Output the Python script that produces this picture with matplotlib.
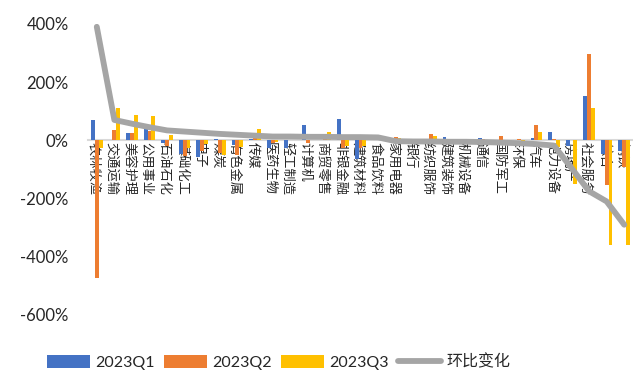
import matplotlib
matplotlib.use("Agg")
import matplotlib.pyplot as plt
import matplotlib.transforms as mtransforms
import numpy as np
from matplotlib.ticker import FuncFormatter

plt.rcParams['font.family'] = ['Lato', 'Noto Sans CJK SC', 'DejaVu Sans']

categories = ["农林牧渔", "交通运输", "美容护理", "公用事业", "石油石化", "基础化工", "电子", "煤炭",
              "有色金属", "传媒", "医药生物", "轻工制造", "计算机", "商贸零售", "非银金融", "建筑材料",
              "食品饮料", "家用电器", "银行", "纺织服饰", "建筑装饰", "机械设备", "通信", "国防军工",
              "环保", "汽车", "电力设备", "房地产", "社会服务", "综合", "钢铁"]

q1 = [70, 2, 24, 42, -8, -48, -58, 3, -16, 5, -27, -28, 53, 2, 74, -63,
      5, 5, 2, 2, 13, 1, 8, 1, 1, 8, 30, -18, 153, -46, -38]
q2 = [-473, 36, 25, 31, -18, -55, -38, -43, -52, 10, -10, 1, -10, 22, -28, -27,
      3, 10, 1, 20, 1, 3, 6, 14, 3, 51, 3, 1, 295, -152, -90]
q3 = [-25, 110, 87, 83, 18, -27, -12, -50, -24, 39, -5, 1, 1, 30, -20, -20,
      1, 7, 1, 15, 1, 1, 1, 1, -9, 30, -22, -150, 111, -360, -360]
qoq = [390, 70, 57, 45, 34, 30, 26, 22, 19, 16, 13, 13, 12, 12, 11, 11,
       10, -3, -4, -4, -5, -5, -6, -8, -10, -13, -18, -95, -175, -210, -290]

series_names = ["2023Q1", "2023Q2", "2023Q3", "环比变化"]
yticks = [400, 200, 0, -200, -400, -600]

colors = ["#4472C4", "#ED7D31", "#FFC000"]
line_color = "#A5A5A5"

fig = plt.figure(figsize=(6.33, 3.79), dpi=100)
ax = fig.add_axes([0.139, 0.169, 0.861, 0.768])

x = np.arange(len(categories))
w = 0.22
handles = []
for k, (vals, c, name) in enumerate(zip([q1, q2, q3], colors, series_names[:3])):
    b = ax.bar(x + (k - 1) * w, vals, width=w, color=c, label=name, zorder=2)
    handles.append(b)

ln, = ax.plot(x, qoq, color=line_color, linewidth=4.2, label=series_names[3], zorder=3,
              solid_capstyle='round', solid_joinstyle='round')
handles.append(ln)

ax.set_xlim(-0.5, len(categories) - 0.5)
ax.set_ylim(-600, 400)
ax.set_yticks(yticks)
ax.yaxis.set_major_formatter(FuncFormatter(lambda v, p: f"{int(v)}%"))
ax.tick_params(axis='y', length=0, labelsize=12, colors='#262626', pad=14)

for s in ['top', 'right', 'left']:
    ax.spines[s].set_visible(False)
ax.spines['bottom'].set_position(('data', 0))
ax.spines['bottom'].set_color('#D9D9D9')
ax.spines['bottom'].set_linewidth(1.5)
ax.spines['bottom'].set_zorder(1)

ax.set_xticks(x)
ax.set_xticklabels(categories, rotation=-90, fontsize=9.5, color='#262626',
                   family=['Noto Sans CJK SC'])
ax.tick_params(axis='x', length=0, pad=1)
shift = mtransforms.ScaledTranslation(-3 / 100, 0, fig.dpi_scale_trans)
for lab in ax.get_xticklabels():
    lab.set_verticalalignment('top')
    lab.set_horizontalalignment('center')
    lab.set_transform(lab.get_transform() + shift)

leg = fig.legend(handles, series_names, loc='center', bbox_to_anchor=(0.44, 0.045), ncol=4,
                 frameon=False, fontsize=11.5, handlelength=2.7, handleheight=0.9,
                 columnspacing=0.55, handletextpad=0.35)
for t in leg.get_texts():
    t.set_color('#262626')

fig.savefig("out.png", dpi=100)
